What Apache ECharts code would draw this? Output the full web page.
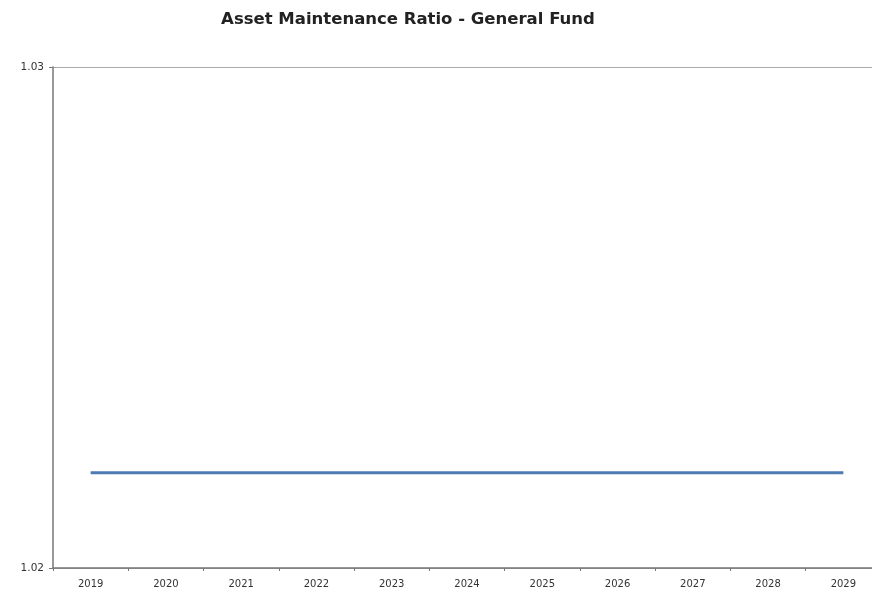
<!DOCTYPE html>
<html>
<head>
<meta charset="utf-8">
<script src="https://cdn.jsdelivr.net/npm/echarts@6/dist/echarts.min.js"></script>
<style>
html,body{margin:0;padding:0;background:#fff;overflow:hidden;}
#chart{width:881px;height:595px;}
</style>
</head>
<body>
<div id="chart"></div>
<script>
const titleText = 'Asset Maintenance Ratio - General Fund';
const years = ['2019','2020','2021','2022','2023','2024','2025','2026','2027','2028','2029'];
const ratioValues = [1.0219,1.0219,1.0219,1.0219,1.0219,1.0219,1.0219,1.0219,1.0219,1.0219,1.0219];
const yMin = 1.02, yMax = 1.03, yStep = 0.01;

// The plot runs a few pixels past the right edge of the window, so the
// container is slightly wider than the viewport and clipped by the body.
const chart = echarts.init(document.getElementById('chart'));
chart.setOption({
  animation: false,
  backgroundColor: '#fff',
  title: {
    text: titleText,
    left: 403, top: 6, textAlign: 'center',
    textStyle: {fontFamily: 'DejaVu Sans', fontSize: 16.5, fontWeight: 'bold', color: '#222'}
  },
  grid: {left: 53, top: 67, right: 0, bottom: 27, containLabel: false},
  xAxis: {
    type: 'category',
    data: years,
    boundaryGap: true,
    axisLine: {lineStyle: {color: '#777', width: 1.5}},
    axisTick: {show: true, alignWithLabel: false, length: 3, inside: false, lineStyle: {color: '#777'}},
    axisLabel: {fontFamily: 'DejaVu Sans', fontSize: 10, color: '#333', margin: 11},
    splitLine: {show: false}
  },
  yAxis: {
    type: 'value',
    min: yMin, max: yMax, interval: yStep,
    axisLine: {show: true, lineStyle: {color: '#777', width: 1.5}},
    axisTick: {show: true, length: 4, lineStyle: {color: '#777'}},
    axisLabel: {fontFamily: 'DejaVu Sans', fontSize: 10.5, color: '#333', margin: 9,
      formatter: v => v.toFixed(2)},
    splitLine: {show: true, lineStyle: {color: '#aaa', width: 1}}
  },
  series: [{
    type: 'line',
    data: ratioValues,
    symbol: 'none',
    lineStyle: {color: '#4f7bb3', width: 3}
  }]
});
</script>
</body>
</html>
